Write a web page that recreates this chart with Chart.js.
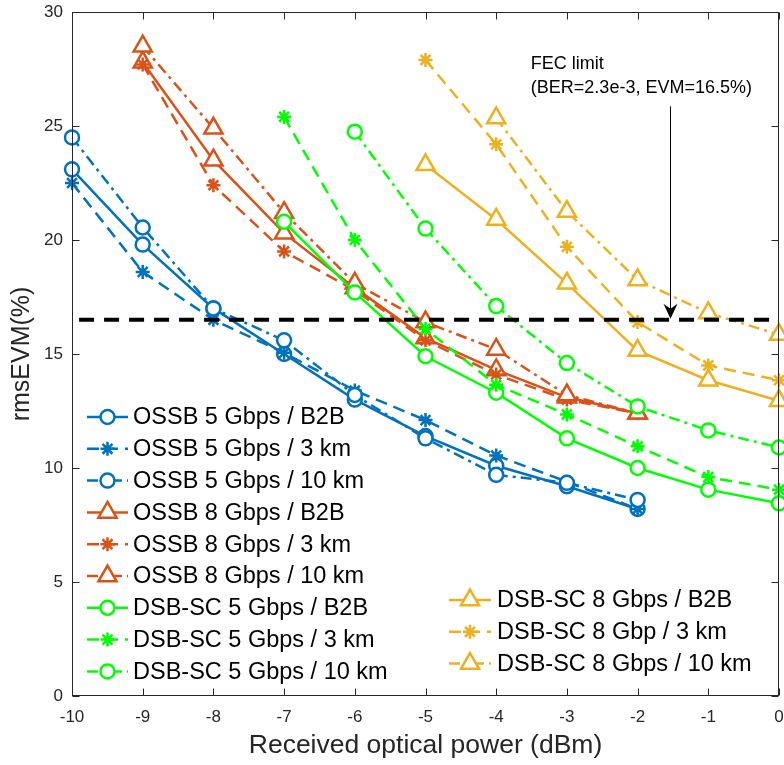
<!DOCTYPE html>
<html>
<head>
<meta charset="utf-8">
<script src="https://cdn.jsdelivr.net/npm/chart.js@4/dist/chart.umd.min.js"></script>
<style>
  html, body { margin: 0; padding: 0; background: #fff; }
  canvas { display: block; }
</style>
</head>
<body>
<canvas id="evm" width="784" height="765"></canvas>
<script>
// Received optical power (dBm) and rms EVM (%) axes
const powerTicks = [-10, -9, -8, -7, -6, -5, -4, -3, -2, -1, 0];
const evmTicks = [0, 5, 10, 15, 20, 25, 30];

// Measurement points (received power, dBm)
const powerOssb5 = [-10, -9, -8, -7, -6, -5, -4, -3, -2];
const powerOssb8 = [-9, -8, -7, -6, -5, -4, -3, -2];
const powerDsb5 = [-7, -6, -5, -4, -3, -2, -1, 0];
const powerDsb5Far = [-6, -5, -4, -3, -2, -1, 0];
const powerDsb8 = [-5, -4, -3, -2, -1, 0];
const powerDsb8Far = [-4, -3, -2, -1, 0];

// rms EVM (%) per link
const ossb5B2B = [23.1, 19.8, 17.0, 15.0, 13.0, 11.4, 10.1, 9.2, 8.2];
const ossb5Km3 = [22.5, 18.6, 16.5, 15.05, 13.4, 12.1, 10.55, 9.4, 8.2];
const ossb5Km10 = [24.5, 20.55, 17.0, 15.6, 13.2, 11.3, 9.7, 9.35, 8.6];
const ossb8B2B = [27.8, 23.5, 20.3, 17.9, 15.7, 14.3, 13.1, 12.4];
const ossb8Km3 = [27.7, 22.4, 19.5, 17.8, 15.6, 14.1, 13.0, 12.4];
const ossb8Km10 = [28.5, 24.9, 21.2, 18.1, 16.4, 15.2, 13.2, 12.4];
const dsb5B2B = [20.8, 17.7, 14.9, 13.3, 11.3, 10.0, 9.05, 8.45];
const dsb5Km3 = [25.4, 20.0, 16.1, 13.65, 12.35, 10.95, 9.6, 9.05];
const dsb5Km10 = [24.75, 20.5, 17.1, 14.6, 12.7, 11.65, 10.9];
const dsb8B2B = [23.3, 20.9, 18.1, 15.15, 13.85, 12.95];
const dsb8Km3 = [27.9, 24.2, 19.7, 16.4, 14.5, 13.85];
const dsb8Km10 = [25.35, 21.25, 18.25, 16.8, 15.85];

// FEC threshold
const fecLimit = 16.5;
const fecSpan = [-9.9, 0];
const fecLines = ['FEC limit', '(BER=2.3e-3, EVM=16.5%)'];

const FONT = '"Liberation Sans", Arial, Helvetica, sans-serif';
const BLUE = '#0072BD', ORANGE = '#D95319', GREEN = '#00FF00', GOLD = '#EDB120';
const DASHES = { solid: [], dash: [12, 7], dashdot: [11, 5, 3, 5] };
const RADIUS = { circle: 7, star: 7, triangle: 10.5 };

const series = [
  { label: 'OSSB 5 Gbps / B2B', x: powerOssb5, y: ossb5B2B, color: BLUE, line: 'solid', marker: 'circle', col: 0 },
  { label: 'OSSB 5 Gbps / 3 km', x: powerOssb5, y: ossb5Km3, color: BLUE, line: 'dash', marker: 'star', col: 0 },
  { label: 'OSSB 5 Gbps / 10 km', x: powerOssb5, y: ossb5Km10, color: BLUE, line: 'dashdot', marker: 'circle', col: 0 },
  { label: 'OSSB 8 Gbps / B2B', x: powerOssb8, y: ossb8B2B, color: ORANGE, line: 'solid', marker: 'triangle', col: 0 },
  { label: 'OSSB 8 Gbps / 3 km', x: powerOssb8, y: ossb8Km3, color: ORANGE, line: 'dash', marker: 'star', col: 0 },
  { label: 'OSSB 8 Gbps / 10 km', x: powerOssb8, y: ossb8Km10, color: ORANGE, line: 'dashdot', marker: 'triangle', col: 0 },
  { label: 'DSB-SC 5 Gbps / B2B', x: powerDsb5, y: dsb5B2B, color: GREEN, line: 'solid', marker: 'circle', col: 0 },
  { label: 'DSB-SC 5 Gbps / 3 km', x: powerDsb5, y: dsb5Km3, color: GREEN, line: 'dash', marker: 'star', col: 0 },
  { label: 'DSB-SC 5 Gbps / 10 km', x: powerDsb5Far, y: dsb5Km10, color: GREEN, line: 'dashdot', marker: 'circle', col: 0 },
  { label: 'DSB-SC 8 Gbps / B2B', x: powerDsb8, y: dsb8B2B, color: GOLD, line: 'solid', marker: 'triangle', col: 1 },
  { label: 'DSB-SC 8 Gbp / 3 km', x: powerDsb8, y: dsb8Km3, color: GOLD, line: 'dash', marker: 'star', col: 1 },
  { label: 'DSB-SC 8 Gbps / 10 km', x: powerDsb8Far, y: dsb8Km10, color: GOLD, line: 'dashdot', marker: 'triangle', col: 1 }
];

const datasets = series.map((s, i) => ({
  label: s.label,
  data: s.x.map((x, j) => ({ x: x, y: s.y[j] })),
  borderColor: s.color,
  backgroundColor: '#fff',
  borderWidth: 2.5,
  borderDash: DASHES[s.line],
  pointStyle: s.marker,
  pointRadius: RADIUS[s.marker],
  pointBorderWidth: 2.5,
  pointBorderColor: s.color,
  pointBackgroundColor: '#fff',
  tension: 0,
  fill: false,
  clip: false,
  order: series.length - i + 1
}));

datasets.push({
  label: 'FEC limit',
  data: fecSpan.map(x => ({ x: x, y: fecLimit })),
  borderColor: '#000',
  borderWidth: 4,
  borderDash: [15, 10],
  pointRadius: 0,
  fill: false,
  clip: false,
  order: 0
});

// no extra room reserved for the outer tick labels
const NO_PAD = () => ({ left: 0, top: 0, right: 0, bottom: 0 });

// axes box, inward ticks, FEC annotation and the two-column legend
const decorations = {
  id: 'decorations',
  afterDraw(chart) {
    const { ctx, chartArea: a, scales: { x, y } } = chart;
    ctx.save();
    ctx.setLineDash([]);
    ctx.strokeStyle = '#262626';
    ctx.lineWidth = 1;
    const L = Math.round(a.left) + 0.5, R = Math.round(a.right) - 0.5;
    const T = Math.round(a.top) + 0.5, B = Math.round(a.bottom) - 0.5;
    ctx.strokeRect(L, T, R - L, B - T);
    const tl = 7;
    ctx.beginPath();
    powerTicks.forEach(v => {
      const px = Math.round(x.getPixelForValue(v)) + 0.5;
      ctx.moveTo(px, B); ctx.lineTo(px, B - tl);
      ctx.moveTo(px, T); ctx.lineTo(px, T + tl);
    });
    evmTicks.forEach(v => {
      const py = Math.round(y.getPixelForValue(v)) + 0.5;
      ctx.moveTo(L, py); ctx.lineTo(L + tl, py);
      ctx.moveTo(R, py); ctx.lineTo(R - tl, py);
    });
    ctx.stroke();

    // FEC annotation
    const tx = x.getPixelForValue(-3.51);
    ctx.fillStyle = '#000';
    ctx.font = '18px ' + FONT;
    ctx.textAlign = 'left';
    ctx.textBaseline = 'middle';
    ctx.fillText(fecLines[0], tx, y.getPixelForValue(27.7));
    ctx.fillText(fecLines[1], tx, y.getPixelForValue(26.65));
    const ax = Math.round(x.getPixelForValue(-1.545)) + 0.5;
    const ay0 = y.getPixelForValue(25.86);
    const tip = y.getPixelForValue(fecLimit) - 1;
    ctx.strokeStyle = '#000';
    ctx.beginPath();
    ctx.moveTo(ax, ay0); ctx.lineTo(ax, tip - 8);
    ctx.stroke();
    ctx.beginPath();
    ctx.moveTo(ax, tip);
    ctx.lineTo(ax - 7, tip - 15);
    ctx.lineTo(ax, tip - 10);
    ctx.lineTo(ax + 7, tip - 15);
    ctx.closePath();
    ctx.fill();

    // legend
    const cols = [
      { x0: 87, x1: 128, tx: 133, y0: 417, dy: 31.8 },
      { x0: 449, x1: 491, tx: 497, y0: 600, dy: 31.8 }
    ];
    const rowIdx = [0, 0];
    ctx.font = '23.5px ' + FONT;
    series.forEach(s => {
      const c = cols[s.col];
      const ry = c.y0 + c.dy * rowIdx[s.col]++;
      ctx.strokeStyle = s.color;
      ctx.lineWidth = 2.5;
      ctx.setLineDash(DASHES[s.line]);
      ctx.beginPath();
      ctx.moveTo(c.x0, ry); ctx.lineTo(c.x1, ry);
      ctx.stroke();
      ctx.setLineDash([]);
      ctx.fillStyle = '#fff';
      Chart.helpers.drawPoint(ctx, {
        pointStyle: s.marker, radius: RADIUS[s.marker], rotation: 0, borderWidth: 2.5
      }, (c.x0 + c.x1) / 2, ry);
      ctx.fillStyle = '#000';
      ctx.fillText(s.label, c.tx, ry + 1);
    });
    ctx.restore();
  }
};

new Chart(document.getElementById('evm'), {
  type: 'line',
  data: { datasets: datasets },
  options: {
    responsive: false,
    animation: false,
    devicePixelRatio: 1,
    layout: { autoPadding: false, padding: { top: 12, right: 5, left: 0, bottom: 0 } },
    plugins: { legend: { display: false }, tooltip: { enabled: false } },
    scales: {
      x: {
        type: 'linear', min: -10, max: 0,
        afterFit(scale) {
          scale.height = 69; scale.paddingLeft = 0; scale.paddingRight = 0;
          scale.getPadding = NO_PAD;
        },
        afterBuildTicks(scale) { scale.ticks = powerTicks.map(v => ({ value: v })); },
        grid: { display: false, drawTicks: false },
        border: { display: false },
        ticks: { color: '#262626', font: { family: FONT, size: 17 }, padding: 11, maxRotation: 0 },
        title: { display: true, text: 'Received optical power (dBm)', color: '#262626',
                 font: { family: FONT, size: 26.5 }, padding: { top: 0, bottom: 3 } }
      },
      y: {
        type: 'linear', min: 0, max: 30,
        afterFit(scale) {
          scale.width = 72; scale.paddingTop = 0; scale.paddingBottom = 0;
          scale.getPadding = NO_PAD;
        },
        afterBuildTicks(scale) { scale.ticks = evmTicks.map(v => ({ value: v })); },
        grid: { display: false, drawTicks: false },
        border: { display: false },
        ticks: { color: '#262626', font: { family: FONT, size: 17 }, padding: 9 },
        title: { display: true, text: 'rmsEVM(%)', color: '#262626',
                 font: { family: FONT, size: 25 }, padding: { top: 7, bottom: 0 } }
      }
    }
  },
  plugins: [decorations]
});
</script>
</body>
</html>
